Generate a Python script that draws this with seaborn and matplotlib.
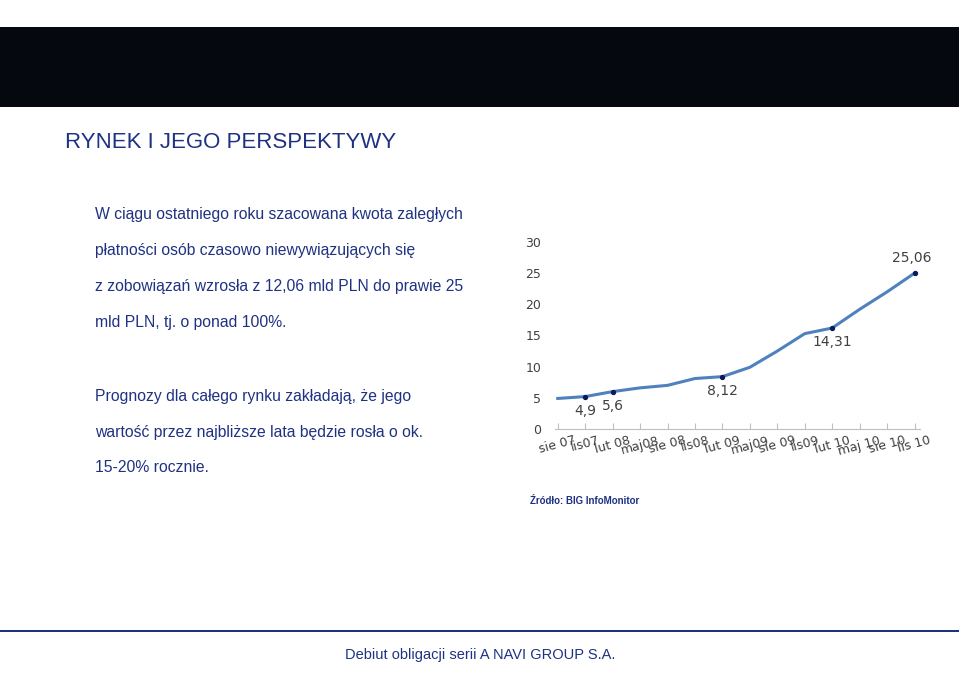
import numpy as np
import pandas as pd
import matplotlib
matplotlib.use('Agg')
import matplotlib.pyplot as plt
import seaborn as sns

months = ['sie 07', 'lis07', 'lut 08', 'maj08', 'sie 08', 'lis08', 'lut 09', 'maj09',
          'sie 09', 'lis09', 'lut 10', 'maj 10', 'sie 10', 'lis 10']
values = [4.9, 5.2, 6.0, 6.6, 7.0, 8.1, 8.4, 9.9, 12.5, 15.3, 16.2, 19.2, 22.0, 25.0]
marked = [1, 2, 6, 10, 13]
labels = ['4,9', '5,6', '8,12', '14,31', '25,06']

df = pd.DataFrame({'x': range(len(months)), 'value': values})

fig = plt.figure(figsize=(9.59, 6.78), dpi=100)
fig.patch.set_facecolor('white')
txt_color = '#1f3282'

# header band
band = fig.add_axes([0, 1 - 107/678, 1, 80/678])
band.set_facecolor('#05090f')
band.set_xticks([]); band.set_yticks([])
for s in band.spines.values():
    s.set_visible(False)

fig.text(65/959, 1 - 142/678, 'RYNEK I JEGO PERSPEKTYWY', fontsize=16, color=txt_color,
         va='center', family='Liberation Sans')
para1 = ['W ciągu ostatniego roku szacowana kwota zaległych',
         'płatności osób czasowo niewywiązujących się',
         'z zobowiązań wzrosła z 12,06 mld PLN do prawie 25',
         'mld PLN, tj. o ponad 100%.']
para2 = ['Prognozy dla całego rynku zakładają, że jego',
         'wartość przez najbliższe lata będzie rosła o ok.',
         '15-20% rocznie.']
for i, line in enumerate(para1):
    fig.text(95/959, 1 - (215 + i*36)/678, line, fontsize=11.3, color=txt_color, va='center',
             family='Liberation Sans')
for i, line in enumerate(para2):
    fig.text(95/959, 1 - (396 + i*36)/678, line, fontsize=11.3, color=txt_color, va='center',
             family='Liberation Sans')

ax = fig.add_axes([555/959, 1 - 429/678, 365/959, 187/678])
sns.lineplot(data=df, x='x', y='value', ax=ax, color='#4f81bd', linewidth=2.2)
ax.scatter([df['x'][i] for i in marked], [values[i] for i in marked], color='#0a1a5a', s=8, zorder=3)
for i, lab in zip(marked, labels):
    if i == 13:
        ax.annotate(lab, (i, values[i]), xytext=(-2, 6), textcoords='offset points',
                    ha='center', va='bottom', fontsize=10, color='#404040')
    else:
        ax.annotate(lab, (i, values[i]), xytext=(0, -5), textcoords='offset points',
                    ha='center', va='top', fontsize=10, color='#404040')
ax.set_ylim(0, 30)
ax.set_xlim(-0.1, 13.2)
ax.set_yticks([0, 5, 10, 15, 20, 25, 30])
ax.set_xticks(range(len(months)))
ax.set_xticklabels(months, rotation=15, fontsize=9, color='#404040')
ax.tick_params(axis='y', labelsize=9, colors='#404040', length=0, pad=10)
ax.tick_params(axis='x', length=4, color='#bfbfbf', direction='in')
ax.set_xlabel(''); ax.set_ylabel('')
for s in ['top', 'right', 'left']:
    ax.spines[s].set_visible(False)
ax.spines['bottom'].set_color('#bfbfbf')
ax.set_facecolor('none')

fig.text(530/959, 1 - 501/678, 'Źródło: BIG InfoMonitor', fontsize=7, fontweight='bold',
         color=txt_color, va='center', family='Liberation Sans')

# footer line
line = fig.add_axes([0, 1 - 632/678, 1, 2/678])
line.set_facecolor(txt_color)
line.set_xticks([]); line.set_yticks([])
for s in line.spines.values():
    s.set_visible(False)
fig.text(480/959, 1 - 655/678, 'Debiut obligacji serii A NAVI GROUP S.A.', fontsize=10.5,
         color=txt_color, ha='center', va='center', family='Liberation Sans')

fig.savefig('out.png', dpi=100)
